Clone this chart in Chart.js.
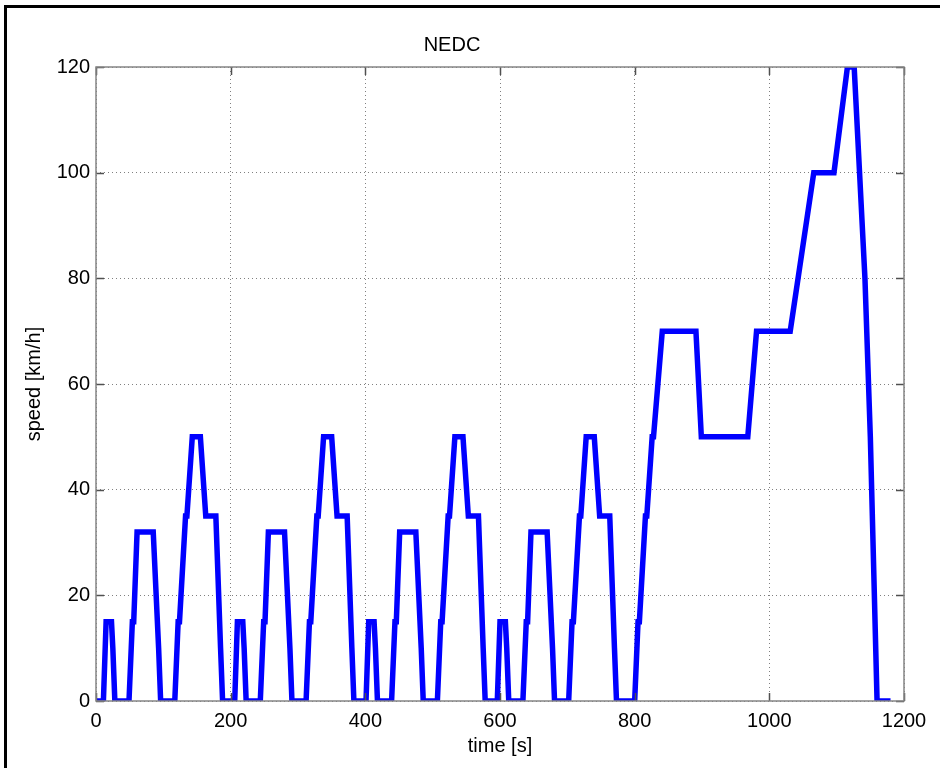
<!DOCTYPE html>
<html>
<head>
<meta charset="utf-8">
<title>NEDC</title>
<script src="https://cdn.jsdelivr.net/npm/chart.js@4/dist/chart.umd.min.js"></script>
<style>
  html, body { margin: 0; padding: 0; background: #fff; }
  #wrap { width: 940px; height: 768px; position: relative; }
</style>
</head>
<body>
<div id="wrap"><canvas id="c" width="940" height="768"></canvas></div>
<script>
// New European Driving Cycle: four ECE-15 urban segments followed by the EUDC segment.
// Breakpoints of the speed profile: time [s] and speed [km/h].
const timeS = [
  // ECE-15 #1
  0, 11, 15, 23, 25, 28, 49, 54, 56, 61, 85, 93, 96, 117, 122, 124, 133, 135, 143, 155, 163, 176, 178, 185, 188,
  // ECE-15 #2
  195, 206, 210, 218, 220, 223, 244, 249, 251, 256, 280, 288, 291, 312, 317, 319, 328, 330, 338, 350, 358, 371, 373, 380, 383,
  // ECE-15 #3
  390, 401, 405, 413, 415, 418, 439, 444, 446, 451, 475, 483, 486, 507, 512, 514, 523, 525, 533, 545, 553, 566, 568, 575, 578,
  // ECE-15 #4
  585, 596, 600, 608, 610, 613, 634, 639, 641, 646, 670, 678, 681, 702, 707, 709, 718, 720, 728, 740, 748, 761, 763, 770, 773,
  // EUDC
  780, 800, 805, 807, 816, 818, 826, 828, 841, 891, 899, 968, 981, 1031, 1066, 1096, 1116, 1126, 1142, 1150, 1160, 1180
];
const speedKmh = [
  0, 0, 15, 15, 10, 0, 0, 15, 15, 32, 32, 10, 0, 0, 15, 15, 35, 35, 50, 50, 35, 35, 35, 10, 0,
  0, 0, 15, 15, 10, 0, 0, 15, 15, 32, 32, 10, 0, 0, 15, 15, 35, 35, 50, 50, 35, 35, 35, 10, 0,
  0, 0, 15, 15, 10, 0, 0, 15, 15, 32, 32, 10, 0, 0, 15, 15, 35, 35, 50, 50, 35, 35, 35, 10, 0,
  0, 0, 15, 15, 10, 0, 0, 15, 15, 32, 32, 10, 0, 0, 15, 15, 35, 35, 50, 50, 35, 35, 35, 10, 0,
  0, 0, 15, 15, 35, 35, 50, 50, 70, 70, 50, 50, 70, 70, 100, 100, 120, 120, 80, 50, 0, 0
];
const timeTicks = [0, 200, 400, 600, 800, 1000, 1200];
const speedTicks = [0, 20, 40, 60, 80, 100, 120];

const FONT = '"Liberation Sans", Arial, Helvetica, sans-serif';
const BOX_COLOR = '#858585';
const TICK_COLOR = '#505050';
const GRID_COLOR = '#808080';

const points = timeS.map((t, i) => ({ x: t, y: speedKmh[i] }));

// Outer figure frame (left and top edges fall inside the page).
const framePlugin = {
  id: 'frame',
  beforeDraw(chart) {
    const ctx = chart.ctx;
    ctx.save();
    ctx.fillStyle = '#fff';
    ctx.fillRect(0, 0, chart.width, chart.height);
    ctx.strokeStyle = '#000';
    ctx.lineWidth = 3;
    ctx.strokeRect(5.5, 6.5, 2000, 2000);
    ctx.restore();
  }
};

// Axes box with inward tick marks on all four sides.
const boxPlugin = {
  id: 'axesBox',
  afterDraw(chart) {
    const { ctx, chartArea: a, scales } = chart;
    const len = 8;
    ctx.save();
    ctx.strokeStyle = TICK_COLOR;
    ctx.lineWidth = 1.5;
    ctx.beginPath();
    timeTicks.forEach(v => {
      const x = Math.round(scales.x.getPixelForValue(v)) + 0.5;
      ctx.moveTo(x, a.bottom); ctx.lineTo(x, a.bottom - len);
      ctx.moveTo(x, a.top); ctx.lineTo(x, a.top + len);
    });
    speedTicks.forEach(v => {
      const y = Math.round(scales.y.getPixelForValue(v)) + 0.5;
      ctx.moveTo(a.left, y); ctx.lineTo(a.left + len, y);
      ctx.moveTo(a.right, y); ctx.lineTo(a.right - len, y);
    });
    ctx.stroke();
    ctx.strokeStyle = BOX_COLOR;
    ctx.lineWidth = 1.5;
    ctx.strokeRect(a.left, a.top, a.right - a.left, a.bottom - a.top);
    ctx.restore();
  }
};

new Chart(document.getElementById('c'), {
  type: 'line',
  data: {
    datasets: [{
      label: 'speed',
      data: points,
      borderColor: '#0000ff',
      backgroundColor: '#0000ff',
      borderWidth: 5.5,
      pointRadius: 0,
      tension: 0,
      fill: false,
      clip: 0,
      borderJoinStyle: 'miter'
    }]
  },
  options: {
    responsive: false,
    animation: false,
    devicePixelRatio: 1,
    layout: { padding: { left: 0, right: 36, top: 0, bottom: 0 } },
    plugins: {
      legend: { display: false },
      tooltip: { enabled: false },
      title: {
        display: true,
        text: 'NEDC',
        color: '#000',
        font: { family: FONT, size: 20, weight: 'normal' },
        padding: { top: 33, bottom: 10 }
      }
    },
    scales: {
      x: {
        type: 'linear',
        min: 0,
        max: 1200,
        z: 1,
        afterFit(s) { s.height = 67; },
        afterBuildTicks(s) { s.ticks = timeTicks.map(v => ({ value: v })); },
        ticks: {
          color: '#000',
          font: { family: FONT, size: 20 },
          padding: 8,
          maxRotation: 0,
          callback: v => String(v)
        },
        grid: { color: GRID_COLOR, lineWidth: 1, drawTicks: false },
        border: { display: false, dash: [1, 3] },
        title: {
          display: true,
          text: 'time [s]',
          color: '#000',
          font: { family: FONT, size: 20 },
          padding: { top: 0, bottom: 10 }
        }
      },
      y: {
        type: 'linear',
        min: 0,
        max: 120,
        z: 1,
        afterFit(s) { s.width = 96; },
        afterBuildTicks(s) { s.ticks = speedTicks.map(v => ({ value: v })); },
        ticks: {
          color: '#000',
          font: { family: FONT, size: 20 },
          padding: 6,
          callback: v => String(v)
        },
        grid: { color: GRID_COLOR, lineWidth: 1, drawTicks: false },
        border: { display: false, dash: [1, 3] },
        title: {
          display: true,
          text: 'speed [km/h]',
          color: '#000',
          font: { family: FONT, size: 20 },
          padding: { top: 22, bottom: 0 }
        }
      }
    }
  },
  plugins: [framePlugin, boxPlugin]
});
</script>
</body>
</html>
